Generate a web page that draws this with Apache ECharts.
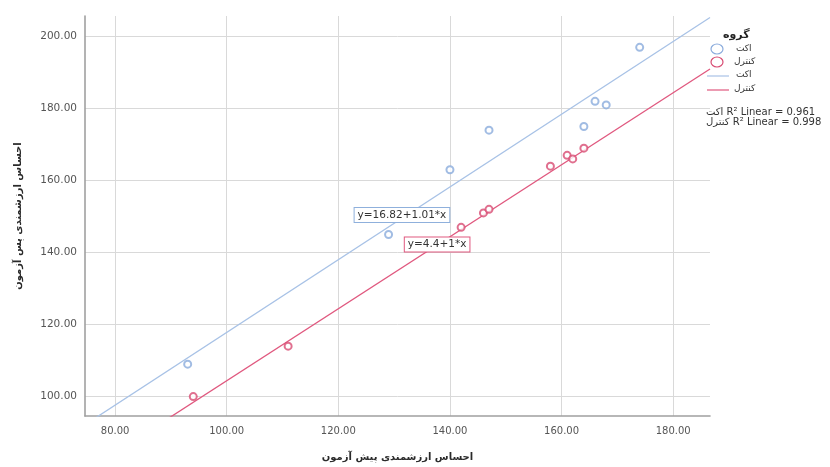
<!DOCTYPE html>
<html>
<head>
<meta charset="utf-8">
<script src="https://cdn.jsdelivr.net/npm/echarts@6/dist/echarts.min.js"></script>
<style>html,body{margin:0;padding:0;background:#fff}#c{width:830px;height:467px}</style>
</head>
<body>
<div id="c"></div>
<script>
// ---- data ----
const groupNames = ['اکت', 'کنترل'];
const actX = [93, 129, 140, 147, 164, 166, 168, 174];
const actY = [109, 145, 163, 174, 175, 182, 181, 197];
const ctrlX = [94, 111, 142, 146, 147, 158, 161, 162, 164];
const ctrlY = [100, 114, 147, 151, 152, 164, 167, 166, 169];
const fitIntercepts = [16.82, 4.4];
const fitSlopes = [1.01, 1];
const fitLabels = ['y=16.82+1.01*x', 'y=4.4+1*x'];
const fitLabelAt = [[131.4, 150.4], [137.7, 142.2]];
const rSquared = ['0.961', '0.998'];
const xTicks = [80, 100, 120, 140, 160, 180];
const yTicks = [100, 120, 140, 160, 180, 200];
const xRange = [74.6, 186.6];
const yRange = [94.6, 205.7];
const xTitle = 'احساس ارزشمندی پیش آزمون';
const yTitle = 'احساس ارزشمندی پس آزمون';
const legendTitle = 'گروه';

const blue = '#a8c2e6';
const blueDot = '#8aabdc';
const red = '#e0587f';
const redDot = '#d84c73';
const FONT = '"DejaVu Sans", "Liberation Sans", sans-serif';

const zip = (a, b) => a.map((v, i) => [v, b[i]]);
const fitLine = (k) => xRange.map(x => [x, fitIntercepts[k] + fitSlopes[k] * x]);

const chart = echarts.init(document.getElementById('c'), null, {renderer: 'canvas'});

const axisCommon = {
  type: 'value',
  axisLine: {show: true, onZero: false, lineStyle: {color: '#a0a0a0', width: 1.6}},
  splitLine: {show: true, lineStyle: {color: '#d9d9d9', width: 1}},
  nameLocation: 'middle',
  nameTextStyle: {fontFamily: FONT, fontSize: 10, fontWeight: 'bold', color: '#2a2a2a'}
};

chart.setOption({
  animation: false,
  backgroundColor: '#fff',
  grid: {left: 85, right: 120, top: 16, bottom: 38, containLabel: false},
  xAxis: Object.assign({}, axisCommon, {
    min: xRange[0], max: xRange[1],
    name: xTitle, nameGap: 36,
    axisTick: {show: false, customValues: xTicks},
    axisLabel: {customValues: xTicks, formatter: v => v.toFixed(2), fontFamily: FONT, fontSize: 10, color: '#555', margin: 10}
  }),
  yAxis: Object.assign({}, axisCommon, {
    min: yRange[0], max: yRange[1],
    name: yTitle, nameGap: 62,
    axisTick: {show: false, customValues: yTicks},
    axisLabel: {customValues: yTicks, formatter: v => v.toFixed(2), fontFamily: FONT, fontSize: 10.5, color: '#555', margin: 8}
  }),
  series: [
    {
      name: groupNames[0] + ' fit', type: 'line', data: fitLine(0), showSymbol: false, symbol: 'none',
      lineStyle: {color: blue, width: 1.3}, clip: true, z: 2,
      markPoint: {
        symbol: 'rect', symbolSize: 0,
        data: [{coord: fitLabelAt[0], value: fitLabels[0]}],
        label: {show: true, formatter: fitLabels[0], fontFamily: FONT, fontSize: 10.5, color: '#333',
          backgroundColor: '#fff', borderColor: '#8fb0dc', borderWidth: 1, padding: [2, 3, 1, 3]}
      }
    },
    {
      name: groupNames[1] + ' fit', type: 'line', data: fitLine(1), showSymbol: false, symbol: 'none',
      lineStyle: {color: red, width: 1.3}, clip: true, z: 2,
      markPoint: {
        symbol: 'rect', symbolSize: 0,
        data: [{coord: fitLabelAt[1], value: fitLabels[1]}],
        label: {show: true, formatter: fitLabels[1], fontFamily: FONT, fontSize: 10.5, color: '#333',
          backgroundColor: '#fff', borderColor: red, borderWidth: 1, padding: [2, 3, 1, 3]}
      }
    },
    {
      name: groupNames[0], type: 'scatter', data: zip(actX, actY), symbol: 'emptyCircle', symbolSize: 7,
      itemStyle: {color: blueDot, borderColor: blueDot, borderWidth: 1}, z: 3
    },
    {
      name: groupNames[1], type: 'scatter', data: zip(ctrlX, ctrlY), symbol: 'emptyCircle', symbolSize: 7,
      itemStyle: {color: redDot, borderColor: redDot, borderWidth: 1}, z: 3
    }
  ],
  graphic: [
    {type: 'text', left: 723, top: 30, style: {text: legendTitle, font: 'bold 11px ' + FONT, fill: '#222'}},
    {type: 'ellipse', shape: {cx: 717, cy: 49, rx: 6, ry: 5}, style: {fill: '#fff', stroke: blueDot, lineWidth: 1.2}},
    {type: 'text', left: 736, top: 44, style: {text: groupNames[0], font: '9px ' + FONT, fill: '#333'}},
    {type: 'ellipse', shape: {cx: 717, cy: 62, rx: 6, ry: 5}, style: {fill: '#fff', stroke: redDot, lineWidth: 1.2}},
    {type: 'text', left: 734, top: 57, style: {text: groupNames[1], font: '9px ' + FONT, fill: '#333'}},
    {type: 'line', shape: {x1: 707, y1: 76, x2: 729, y2: 76}, style: {stroke: blue, lineWidth: 1.2}},
    {type: 'text', left: 736, top: 70, style: {text: groupNames[0], font: '9px ' + FONT, fill: '#333'}},
    {type: 'line', shape: {x1: 707, y1: 90, x2: 729, y2: 90}, style: {stroke: red, lineWidth: 1.2}},
    {type: 'text', left: 734, top: 84, style: {text: groupNames[1], font: '9px ' + FONT, fill: '#333'}},
    {type: 'text', left: 706, top: 107, style: {text: groupNames[0] + ' R² Linear = ' + rSquared[0], font: '10px ' + FONT, fill: '#333'}},
    {type: 'text', left: 706, top: 117, style: {text: groupNames[1] + ' R² Linear = ' + rSquared[1], font: '10px ' + FONT, fill: '#333'}}
  ]
});
</script>
</body>
</html>
